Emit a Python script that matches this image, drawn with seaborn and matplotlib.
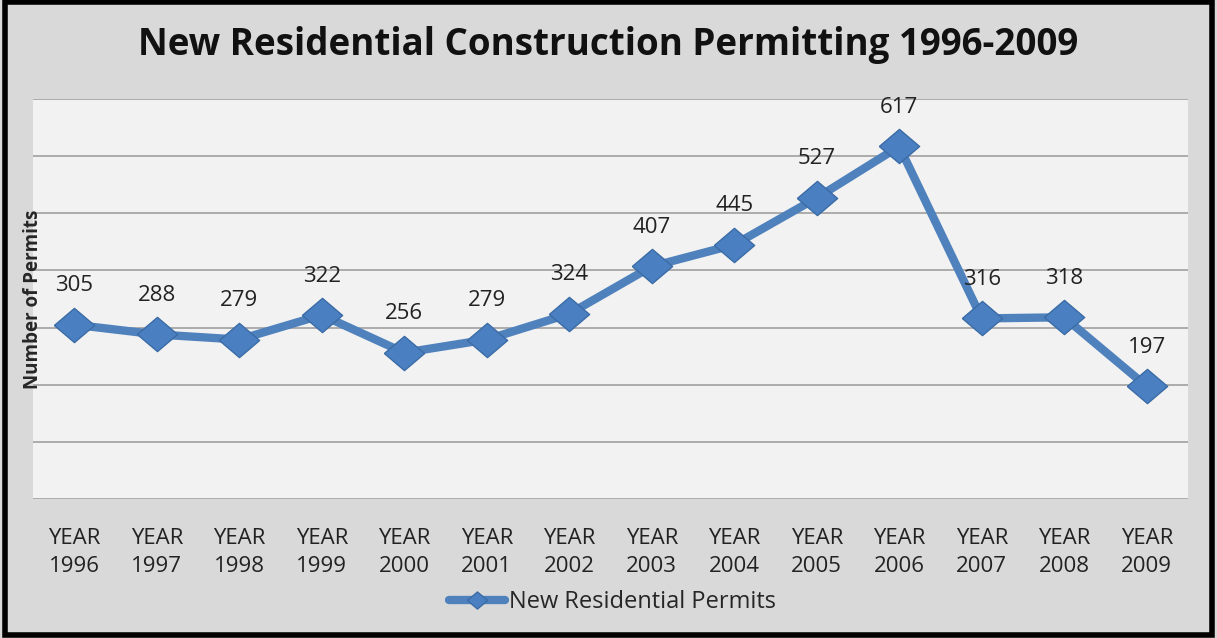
import matplotlib.pyplot as plt
from matplotlib.patches import Rectangle
import seaborn as sns
import pandas as pd

years = ['1996', '1997', '1998', '1999', '2000', '2001', '2002',
         '2003', '2004', '2005', '2006', '2007', '2008', '2009']
permits = [305, 288, 279, 322, 256, 279, 324, 407, 445, 527, 617, 316, 318, 197]
tick_labels = ['YEAR\n' + y for y in years]
series_name = 'New Residential Permits'

df = pd.DataFrame({'year': tick_labels, 'permits': permits})

sns.set_style('white')
plt.rcParams['font.family'] = ['Open Sans', 'DejaVu Sans']

fig = plt.figure(figsize=(12.17, 6.38), dpi=100, facecolor='#D9D9D9')
ax = fig.add_axes([33 / 1217, 1 - 499 / 638, (1188 - 33) / 1217, 400 / 638])
ax.set_facecolor('#F2F2F2')

# diamond marker, a bit wider than tall
diamond = [(-1, 0), (0, 0.85), (1, 0), (0, -0.85), (-1, 0)]
blue = '#4F81BD'

sns.lineplot(data=df, x='year', y='permits', ax=ax, sort=False,
             color=blue, linewidth=6, marker=diamond, markersize=29,
             markerfacecolor='#4A7FC1', markeredgecolor='#3B6CA6',
             markeredgewidth=1, label=series_name)

ax.set_xlim(-0.5, len(years) - 0.5)
ax.set_ylim(0, 700)
ax.set_yticks(range(0, 701, 100))
ax.set_yticklabels([])
ax.tick_params(axis='both', length=0)
ax.grid(axis='y', color='#A6A6A6', linewidth=1.3)
ax.set_axisbelow(True)
ax.set_xticks(range(len(years)))
ax.set_xticklabels(tick_labels, fontsize=16, color='#222222', linespacing=1.45)
ax.tick_params(axis='x', pad=21)
for s in ax.spines.values():
    s.set_visible(False)

ax.set_xlabel('')
ax.set_ylabel('Number of Permits', fontsize=13.5, fontweight='bold')
ax.yaxis.set_label_coords(0.009, 0.5)

# data labels
for i, v in enumerate(permits):
    ax.annotate(str(v), (i, v), xytext=(0, 28), textcoords='offset points',
                ha='center', va='center', fontsize=16, color='#222222')

fig.suptitle('New Residential Construction Permitting 1996-2009',
             fontsize=26.5, fontweight='bold', y=1 - 45 / 638, va='center',
             color='#111111')

ax.get_legend().remove()
fig.legend(loc='center', bbox_to_anchor=(0.503, 1 - 602 / 638), frameon=False,
           fontsize=17, handlelength=2.4, handletextpad=0.15, markerscale=0.5)

# black frame around the whole chart
fig.patches.append(Rectangle((0.004, 0.004), 0.992, 0.993, transform=fig.transFigure,
                             fill=False, edgecolor='black', linewidth=4))

fig.savefig('out.png', dpi=100, facecolor=fig.get_facecolor())
